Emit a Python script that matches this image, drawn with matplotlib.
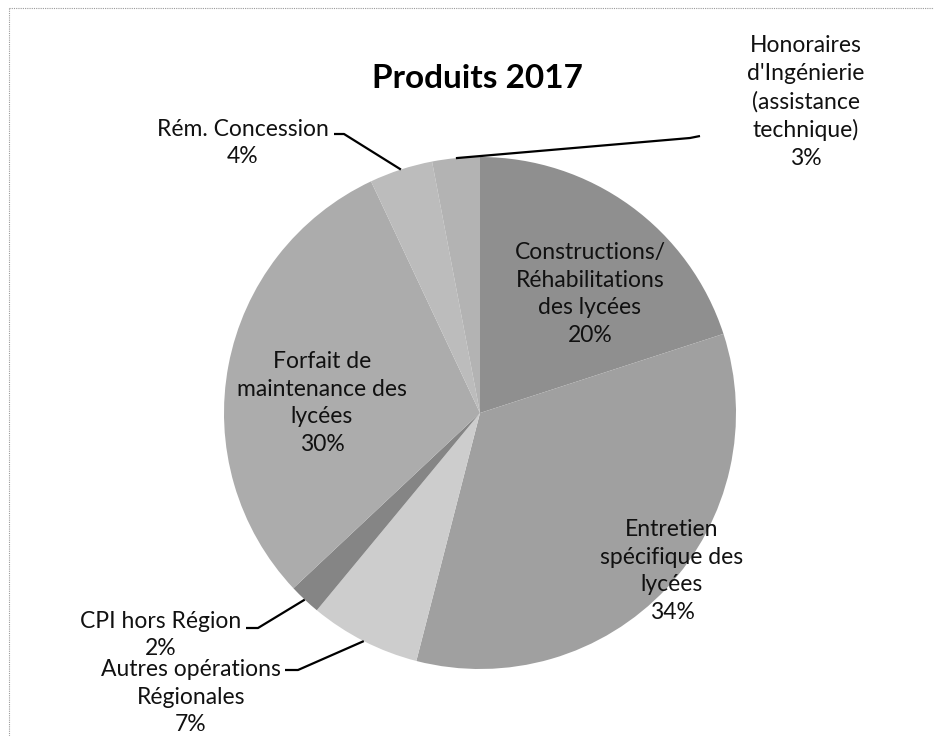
import numpy as np
import matplotlib.pyplot as plt

# data, in pie order (clockwise from 12 o'clock)
labels = ["Constructions/\nRéhabilitations\ndes lycées",
          "Entretien\nspécifique des\nlycées",
          "Autres opérations\nRégionales",
          "CPI hors Région",
          "Forfait de\nmaintenance des\nlycées",
          "Rém. Concession",
          "Honoraires\nd'Ingénierie\n(assistance\ntechnique)"]
values = [20, 34, 7, 2, 30, 4, 3]
colors = ["#8f8f8f", "#a0a0a0", "#cdcdcd", "#858585", "#acacac", "#bcbcbc", "#b3b3b3"]

plt.rcParams['font.family'] = ['Lato', 'DejaVu Sans']

fig = plt.figure(figsize=(9.34, 7.36), dpi=100)
ax = fig.add_axes([0, 0, 1, 1])

# axes in pixel units, y pointing down -> clockwise on screen = counterclock in data
cx, cy, R = 480, 413, 256
wedges, _ = ax.pie(values, colors=colors, startangle=-90, counterclock=True,
                   center=(cx, cy), radius=R, wedgeprops=dict(linewidth=0))
ax.set_xlim(0, 934)
ax.set_ylim(736, 0)
ax.set_aspect('auto')
ax.axis('off')

# chart border (left and top only visible)
ax.plot([9, 9], [8, 736], color='#9a9a9a', lw=0.8, ls=(0, (1, 1)))
ax.plot([9, 934], [8, 8], color='#9a9a9a', lw=0.8, ls=(0, (1, 1)))

ax.text(477, 78, "Produits 2017", ha='center', va='center', fontsize=24, fontweight='bold')

fs = 16.5
ls = 1.38
pct = ["%d%%" % v for v in values]

# labels inside the pie
inside = {0: (590, 294), 1: (672, 571), 4: (322, 403)}
for i, (x, y) in inside.items():
    ax.text(x, y, labels[i] + "\n" + pct[i], ha='center', va='center', fontsize=fs,
            linespacing=ls, color='#111111')

# labels outside with leader lines: text position, horizontal tick near the text
outside = {
    6: dict(xy=(806, 102), hook=[(700, 136), (690, 138)]),
    5: dict(xy=(243, 143), hook=[(334, 134), (344, 134)]),
    3: dict(xy=(161, 635), hook=[(246, 628), (258, 628)]),
    2: dict(xy=(191, 697), hook=[(285, 670), (298, 670)]),
}
for i, d in outside.items():
    ax.text(d['xy'][0], d['xy'][1], labels[i] + "\n" + pct[i], ha='center', va='center',
            fontsize=fs, linespacing=ls, color='#111111')
    w = wedges[i]
    mid = np.deg2rad((w.theta1 + w.theta2) / 2)
    ex, ey = cx + R * np.cos(mid), cy + R * np.sin(mid)
    (x0, y0), (x1, y1) = d['hook']
    ax.plot([x0, x1, ex], [y0, y1, ey], color='black', lw=1.6, solid_capstyle='butt')

plt.savefig('out.png', dpi=100)
